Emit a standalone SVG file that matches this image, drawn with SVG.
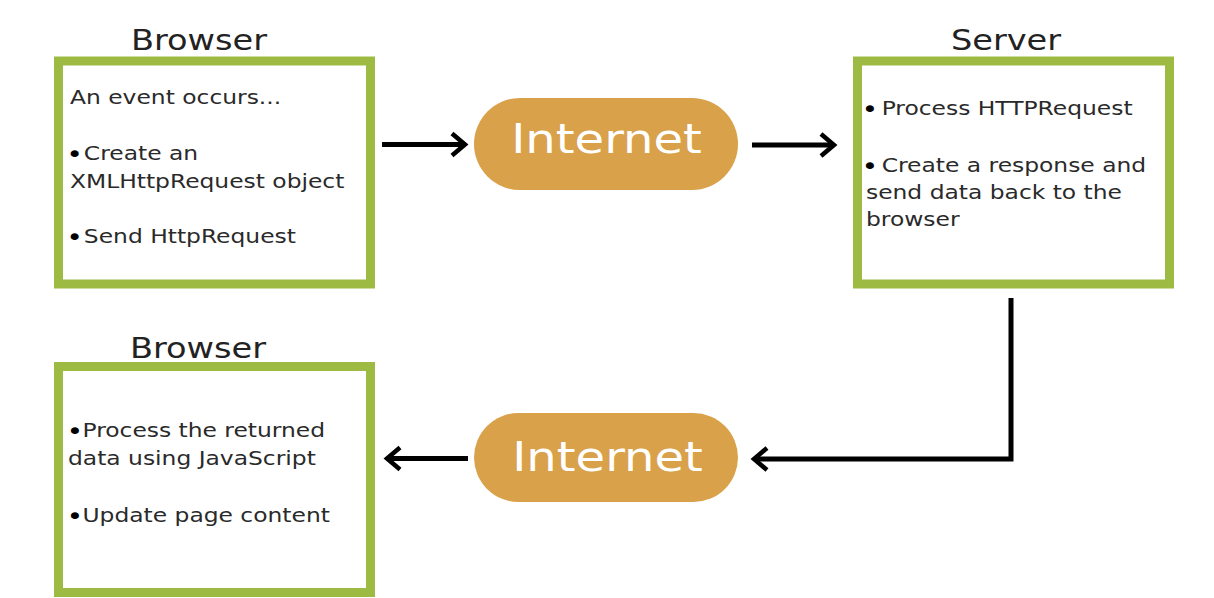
<svg xmlns="http://www.w3.org/2000/svg" width="1214" height="598" viewBox="0 0 1214 598">
<defs>
<style>
.box{fill:#fff;stroke:#9dbb42;stroke-width:9}
.pill{fill:#d9a14a}
.title{font-family:"DejaVu Sans",Verdana,sans-serif;font-size:28px;fill:#222;text-anchor:middle}
.body{font-family:"DejaVu Sans",Verdana,sans-serif;font-size:19.5px;fill:#2a2a2a}
.b{font-size:23px;fill:#000}
.net{font-family:"DejaVu Sans",Verdana,sans-serif;font-size:40px;fill:#fff;text-anchor:middle}
.conn{fill:none;stroke:#000;stroke-width:5}
</style>
<marker id="arr" markerUnits="userSpaceOnUse" markerWidth="30" markerHeight="30" viewBox="-20 -15 30 30" refX="0" refY="0" orient="auto" overflow="visible">
<path d="M-13,-11 L0,0 L-13,11" fill="none" stroke="#000" stroke-width="4.5"/>
</marker>
</defs>
<rect width="1214" height="598" fill="#fff"/>

<g id="browser1">
<text class="title" transform="translate(199 50) scale(1.2 1)">Browser</text>
<rect class="box" x="58.5" y="61" width="312" height="223"/>
<text class="body" transform="translate(70 104) scale(1.2 1)">An event occurs...</text>
<text class="body" transform="translate(66.4 160) scale(1.2 1)"><tspan class="b" dy="1.5">•</tspan><tspan dx="1" dy="-1.5">Create an</tspan></text>
<text class="body" transform="translate(70 188) scale(1.2 1)">XMLHttpRequest object</text>
<text class="body" transform="translate(66.4 243) scale(1.2 1)"><tspan class="b" dy="1.5">•</tspan><tspan dx="1" dy="-1.5">Send HttpRequest</tspan></text>
</g>

<g id="internet1">
<rect class="pill" x="474" y="98" width="264" height="92" rx="46" ry="46"/>
<text class="net" transform="translate(606.5 153) scale(1.2 1)">Internet</text>
</g>

<g id="server">
<text class="title" transform="translate(1006 50) scale(1.2 1)">Server</text>
<rect class="box" x="857.5" y="61" width="312" height="223"/>
<text class="body" transform="translate(861.8 115) scale(1.2 1)"><tspan class="b" dy="1.5">•</tspan><tspan dx="3" dy="-1.5">Process HTTPRequest</tspan></text>
<text class="body" transform="translate(861.8 172) scale(1.2 1)"><tspan class="b" dy="1.5">•</tspan><tspan dx="3" dy="-1.5">Create a response and</tspan></text>
<text class="body" transform="translate(866 199) scale(1.2 1)">send data back to the</text>
<text class="body" transform="translate(866 226) scale(1.2 1)">browser</text>
</g>

<g id="internet2">
<rect class="pill" x="474" y="413" width="264" height="89" rx="44.5" ry="44.5"/>
<text class="net" transform="translate(607.5 471) scale(1.2 1)">Internet</text>
</g>

<g id="browser2">
<text class="title" transform="translate(198 358) scale(1.2 1)">Browser</text>
<rect class="box" x="58.5" y="366.5" width="312" height="226"/>
<text class="body" transform="translate(66.8 437) scale(1.2 1)"><tspan class="b" dy="1.5">•</tspan><tspan dx="-0.5" dy="-1.5">Process the returned</tspan></text>
<text class="body" transform="translate(68 465) scale(1.2 1)">data using JavaScript</text>
<text class="body" transform="translate(66.8 522) scale(1.2 1)"><tspan class="b" dy="1.5">•</tspan><tspan dx="-0.5" dy="-1.5">Update page content</tspan></text>
</g>

<g id="connectors">
<path class="conn" d="M382,144.5 H465" marker-end="url(#arr)"/>
<path class="conn" d="M752,145 H834" marker-end="url(#arr)"/>
<path class="conn" d="M1011,298 V459 H754" marker-end="url(#arr)"/>
<path class="conn" d="M468,458.5 H387" marker-end="url(#arr)"/>
</g>
</svg>
